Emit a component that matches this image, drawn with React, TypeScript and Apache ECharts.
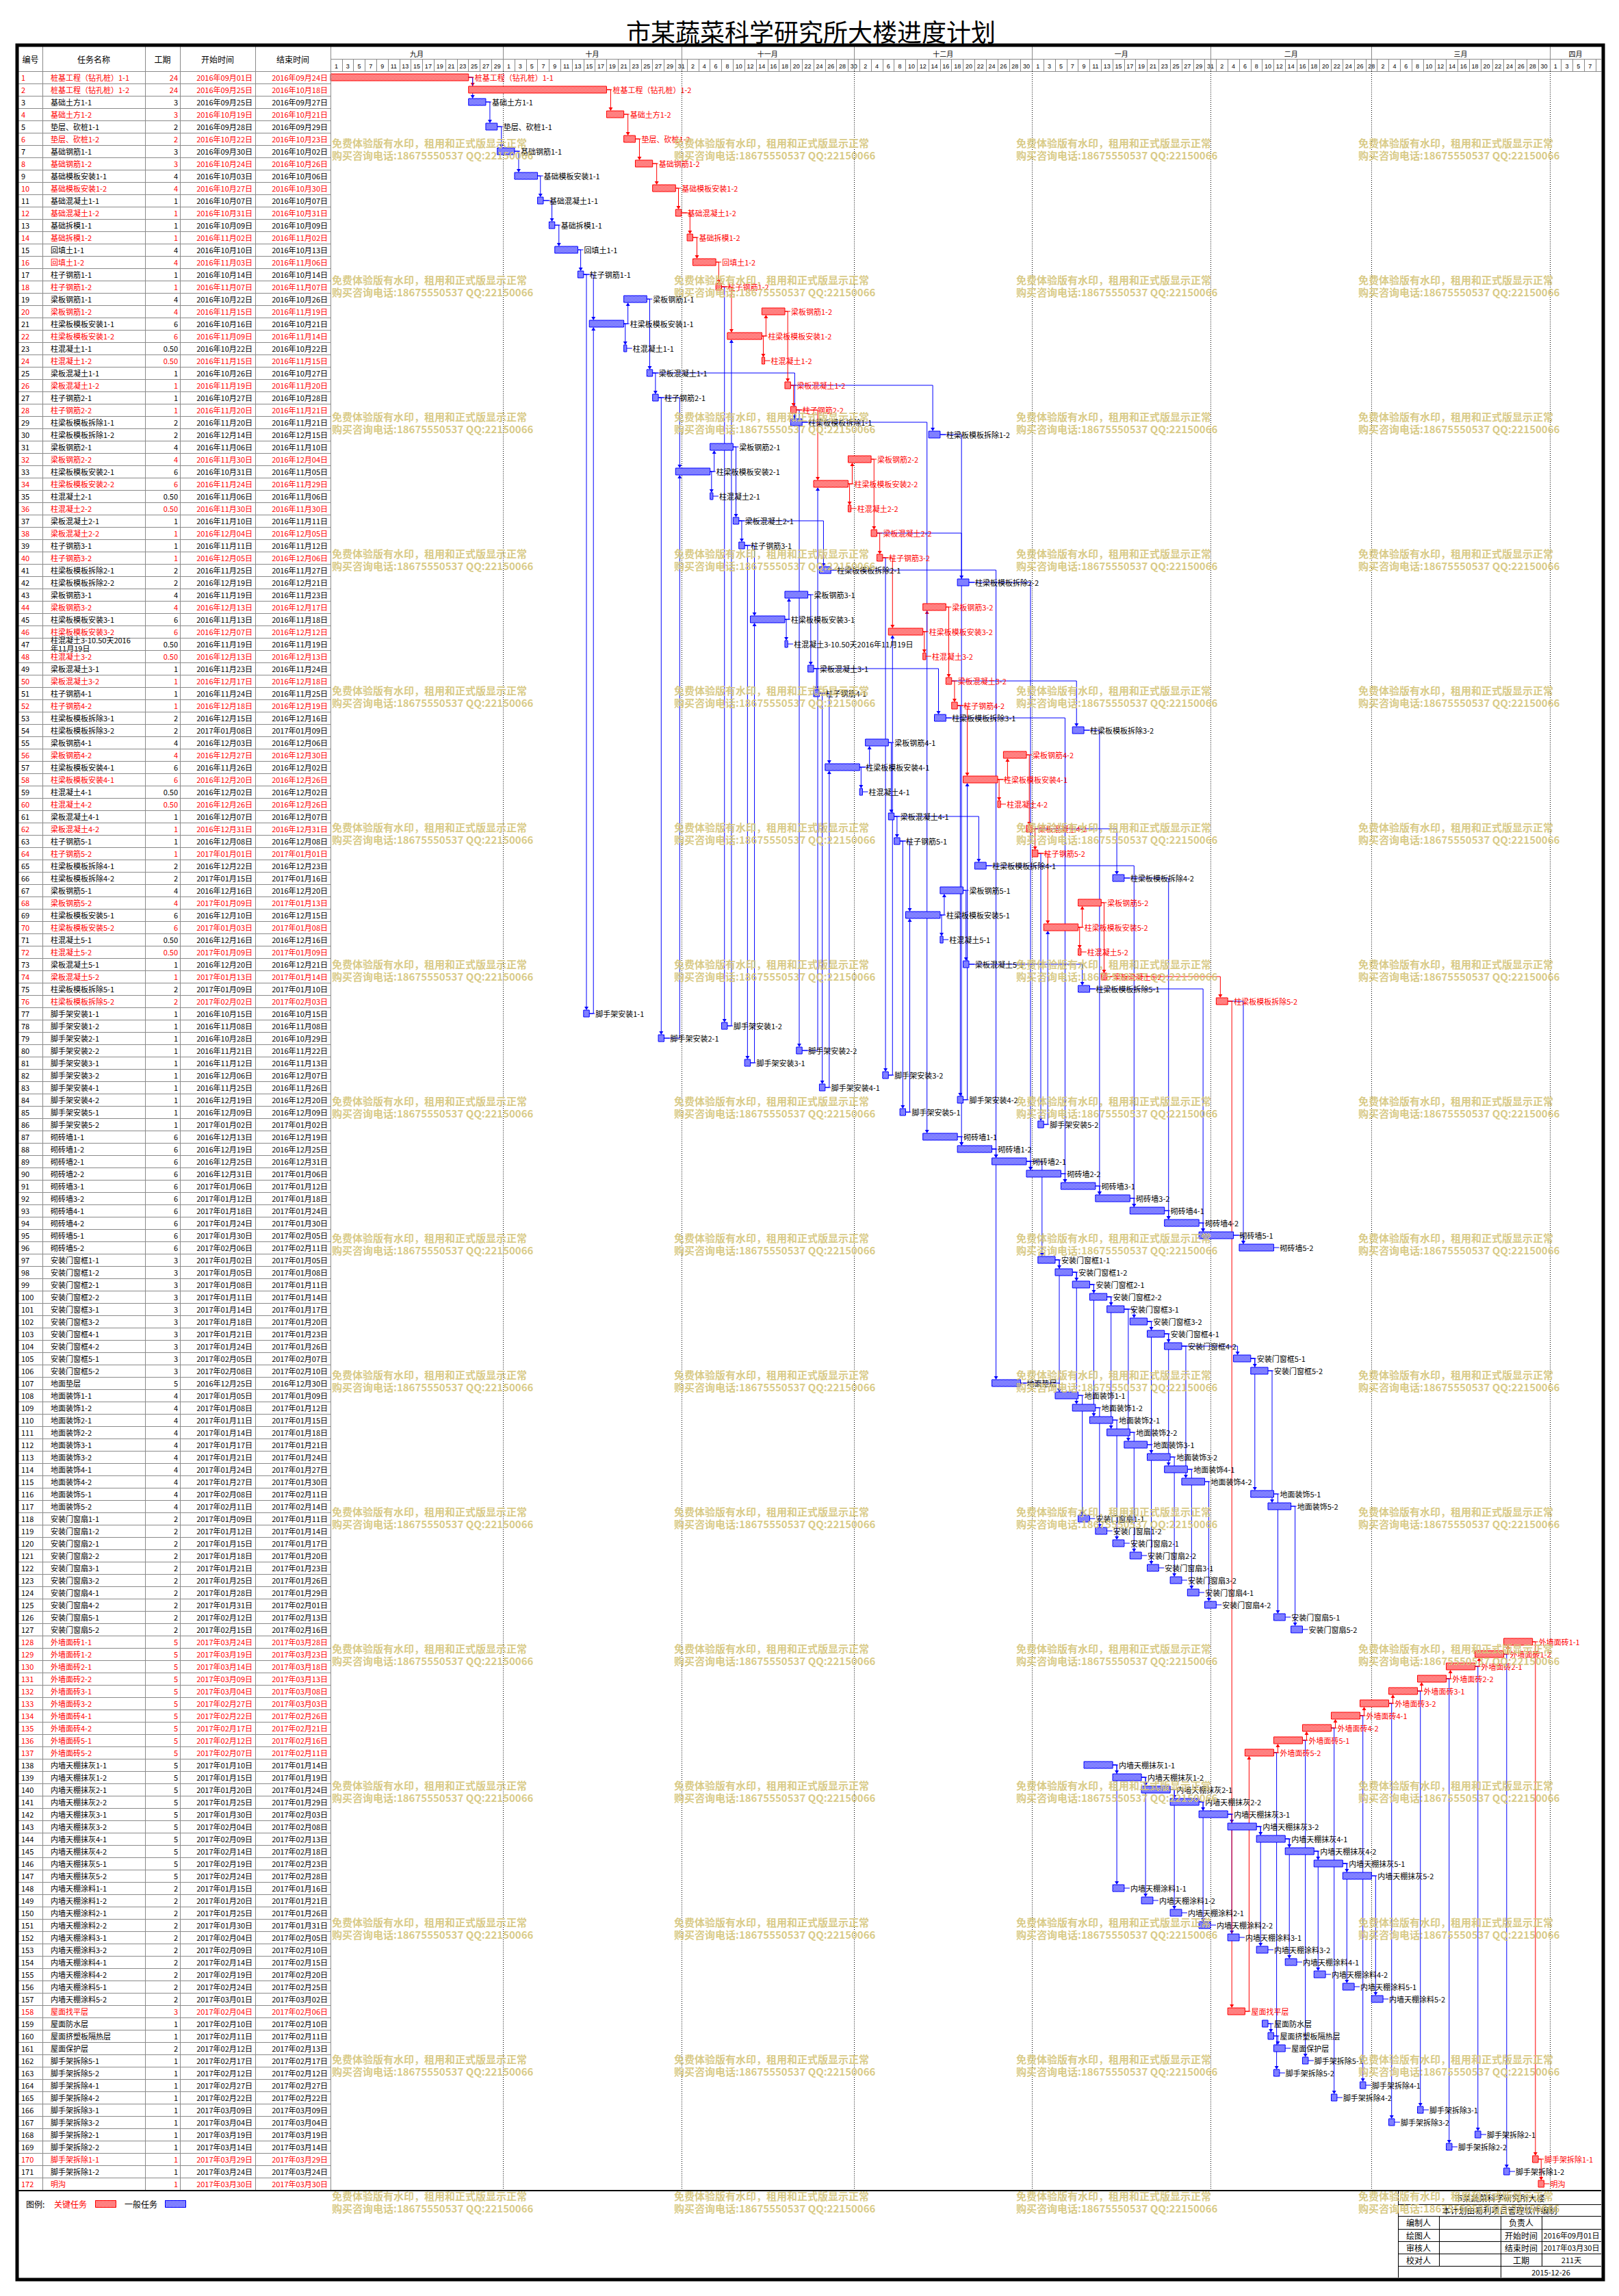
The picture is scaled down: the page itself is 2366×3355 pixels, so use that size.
import React, { useEffect, useRef } from 'react';
import * as echarts from 'echarts';

const TITLE = '市某蔬菜科学研究所大楼进度计划';
const TABLE_HEADERS = ['编号', '任务名称', '工期', '开始时间', '结束时间'];

const NAMES = [
'桩基工程（钻孔桩）1-1','桩基工程（钻孔桩）1-2','基础土方1-1','基础土方1-2','垫层、砍桩1-1','垫层、砍桩1-2','基础钢筋1-1','基础钢筋1-2','基础模板安装1-1','基础模板安装1-2',
'基础混凝土1-1','基础混凝土1-2','基础拆模1-1','基础拆模1-2','回填土1-1','回填土1-2','柱子钢筋1-1','柱子钢筋1-2','梁板钢筋1-1','梁板钢筋1-2',
'柱梁板模板安装1-1','柱梁板模板安装1-2','柱混凝土1-1','柱混凝土1-2','梁板混凝土1-1','梁板混凝土1-2','柱子钢筋2-1','柱子钢筋2-2','柱梁板模板拆除1-1','柱梁板模板拆除1-2',
'梁板钢筋2-1','梁板钢筋2-2','柱梁板模板安装2-1','柱梁板模板安装2-2','柱混凝土2-1','柱混凝土2-2','梁板混凝土2-1','梁板混凝土2-2','柱子钢筋3-1','柱子钢筋3-2',
'柱梁板模板拆除2-1','柱梁板模板拆除2-2','梁板钢筋3-1','梁板钢筋3-2','柱梁板模板安装3-1','柱梁板模板安装3-2','柱混凝土3-10.50天2016年11月19日','柱混凝土3-2','梁板混凝土3-1','梁板混凝土3-2',
'柱子钢筋4-1','柱子钢筋4-2','柱梁板模板拆除3-1','柱梁板模板拆除3-2','梁板钢筋4-1','梁板钢筋4-2','柱梁板模板安装4-1','柱梁板模板安装4-1','柱混凝土4-1','柱混凝土4-2',
'梁板混凝土4-1','梁板混凝土4-2','柱子钢筋5-1','柱子钢筋5-2','柱梁板模板拆除4-1','柱梁板模板拆除4-2','梁板钢筋5-1','梁板钢筋5-2','柱梁板模板安装5-1','柱梁板模板安装5-2',
'柱混凝土5-1','柱混凝土5-2','梁板混凝土5-1','梁板混凝土5-2','柱梁板模板拆除5-1','柱梁板模板拆除5-2','脚手架安装1-1','脚手架安装1-2','脚手架安装2-1','脚手架安装2-2',
'脚手架安装3-1','脚手架安装3-2','脚手架安装4-1','脚手架安装4-2','脚手架安装5-1','脚手架安装5-2','砌砖墙1-1','砌砖墙1-2','砌砖墙2-1','砌砖墙2-2',
'砌砖墙3-1','砌砖墙3-2','砌砖墙4-1','砌砖墙4-2','砌砖墙5-1','砌砖墙5-2','安装门窗框1-1','安装门窗框1-2','安装门窗框2-1','安装门窗框2-2',
'安装门窗框3-1','安装门窗框3-2','安装门窗框4-1','安装门窗框4-2','安装门窗框5-1','安装门窗框5-2','地面垫层','地面装饰1-1','地面装饰1-2','地面装饰2-1',
'地面装饰2-2','地面装饰3-1','地面装饰3-2','地面装饰4-1','地面装饰4-2','地面装饰5-1','地面装饰5-2','安装门窗扇1-1','安装门窗扇1-2','安装门窗扇2-1',
'安装门窗扇2-2','安装门窗扇3-1','安装门窗扇3-2','安装门窗扇4-1','安装门窗扇4-2','安装门窗扇5-1','安装门窗扇5-2','外墙面砖1-1','外墙面砖1-2','外墙面砖2-1',
'外墙面砖2-2','外墙面砖3-1','外墙面砖3-2','外墙面砖4-1','外墙面砖4-2','外墙面砖5-1','外墙面砖5-2','内墙天棚抹灰1-1','内墙天棚抹灰1-2','内墙天棚抹灰2-1',
'内墙天棚抹灰2-2','内墙天棚抹灰3-1','内墙天棚抹灰3-2','内墙天棚抹灰4-1','内墙天棚抹灰4-2','内墙天棚抹灰5-1','内墙天棚抹灰5-2','内墙天棚涂料1-1','内墙天棚涂料1-2','内墙天棚涂料2-1',
'内墙天棚涂料2-2','内墙天棚涂料3-1','内墙天棚涂料3-2','内墙天棚涂料4-1','内墙天棚涂料4-2','内墙天棚涂料5-1','内墙天棚涂料5-2','屋面找平层','屋面防水层','屋面挤塑板隔热层',
'屋面保护层','脚手架拆除5-1','脚手架拆除5-2','脚手架拆除4-1','脚手架拆除4-2','脚手架拆除3-1','脚手架拆除3-2','脚手架拆除2-1','脚手架拆除2-2','脚手架拆除1-1',
'脚手架拆除1-2','明沟'
];

const DURATIONS = [
24,24,3,3,2,2,3,3,4,4,
1,1,1,1,4,4,1,1,4,4,
6,6,0.5,0.5,1,1,1,1,2,2,
4,4,6,6,0.5,0.5,1,1,1,1,
2,2,4,4,6,6,0.5,0.5,1,1,
1,1,2,2,4,4,6,6,0.5,0.5,
1,1,1,1,2,2,4,4,6,6,
0.5,0.5,1,1,2,2,1,1,1,1,
1,1,1,1,1,1,6,6,6,6,
6,6,6,6,6,6,3,3,3,3,
3,3,3,3,3,3,5,4,4,4,
4,4,4,4,4,4,4,2,2,2,
2,2,2,2,2,2,2,5,5,5,
5,5,5,5,5,5,5,5,5,5,
5,5,5,5,5,5,5,2,2,2,
2,2,2,2,2,2,2,3,1,1,
2,1,1,1,1,1,1,1,1,1,
1,1
];

const STARTS = [
'09-01','09-25','09-25','10-19','09-28','10-22','09-30','10-24','10-03','10-27',
'10-07','10-31','10-09','11-02','10-10','11-03','10-14','11-07','10-22','11-15',
'10-16','11-09','10-22','11-15','10-26','11-19','10-27','11-20','11-20','12-14',
'11-06','11-30','10-31','11-24','11-06','11-30','11-10','12-04','11-11','12-05',
'11-25','12-19','11-19','12-13','11-13','12-07','11-19','12-13','11-23','12-17',
'11-24','12-18','12-15','01-08','12-03','12-27','11-26','12-20','12-02','12-26',
'12-07','12-31','12-08','01-01','12-22','01-15','12-16','01-09','12-10','01-03',
'12-16','01-09','12-20','01-13','01-09','02-02','10-15','11-08','10-28','11-21',
'11-12','12-06','11-25','12-19','12-09','01-02','12-13','12-19','12-25','12-31',
'01-06','01-12','01-18','01-24','01-30','02-06','01-02','01-05','01-08','01-11',
'01-14','01-18','01-21','01-24','02-05','02-08','12-25','01-05','01-08','01-11',
'01-14','01-17','01-21','01-24','01-27','02-08','02-11','01-09','01-12','01-15',
'01-18','01-21','01-25','01-28','01-31','02-12','02-15','03-24','03-19','03-14',
'03-09','03-04','02-27','02-22','02-17','02-12','02-07','01-10','01-15','01-20',
'01-25','01-30','02-04','02-09','02-14','02-19','02-24','01-15','01-20','01-25',
'01-30','02-04','02-09','02-14','02-19','02-24','03-01','02-04','02-10','02-11',
'02-12','02-17','02-12','02-27','02-22','03-09','03-04','03-19','03-14','03-29',
'03-24','03-30'
];

const ENDS = [
'09-24','10-18','09-27','10-21','09-29','10-23','10-02','10-26','10-06','10-30',
'10-07','10-31','10-09','11-02','10-13','11-06','10-14','11-07','10-26','11-19',
'10-21','11-14','10-22','11-15','10-27','11-20','10-28','11-21','11-21','12-15',
'11-10','12-04','11-05','11-29','11-06','11-30','11-11','12-05','11-12','12-06',
'11-27','12-21','11-23','12-17','11-18','12-12','11-19','12-13','11-24','12-18',
'11-25','12-19','12-16','01-09','12-06','12-30','12-02','12-26','12-02','12-26',
'12-07','12-31','12-08','01-01','12-23','01-16','12-20','01-13','12-15','01-08',
'12-16','01-09','12-21','01-14','01-10','02-03','10-15','11-08','10-29','11-22',
'11-13','12-07','11-26','12-20','12-09','01-02','12-19','12-25','12-31','01-06',
'01-12','01-18','01-24','01-30','02-05','02-11','01-05','01-08','01-11','01-14',
'01-17','01-20','01-23','01-26','02-07','02-10','12-30','01-09','01-12','01-15',
'01-18','01-21','01-24','01-27','01-30','02-11','02-14','01-11','01-14','01-17',
'01-20','01-23','01-26','01-29','02-01','02-13','02-16','03-28','03-23','03-18',
'03-13','03-08','03-03','02-26','02-21','02-16','02-11','01-14','01-19','01-24',
'01-29','02-03','02-08','02-13','02-18','02-23','02-28','01-16','01-21','01-26',
'01-31','02-05','02-10','02-15','02-20','02-25','03-02','02-06','02-10','02-11',
'02-13','02-17','02-12','02-27','02-22','03-09','03-04','03-19','03-14','03-29',
'03-24','03-30'
];

const CRITICAL = [1,2,4,6,8,10,12,14,16,18,20,22,24,26,28,32,34,36,38,40,44,46,48,50,52,56,58,60,62,64,68,70,72,74,76,
128,129,130,131,132,133,134,135,136,137,158,170,172];

const LINKS = [
[1,2],[1,3],[2,4],[3,5],[4,6],[5,7],[6,8],[7,9],[8,10],[9,11],[10,12],[11,13],[12,14],[13,15],[14,16],[15,17],[16,18],
[17,77],[17,21],[77,21],[21,19],[21,23],[19,25],[25,27],[25,29],
[18,78],[18,22],[78,22],[22,20],[22,24],[20,26],[26,28],[26,30],
[27,79],[27,33],[79,33],[33,31],[33,35],[31,37],[37,39],[37,41],
[28,80],[28,34],[80,34],[34,32],[34,36],[32,38],[38,40],[38,42],
[39,81],[39,45],[81,45],[45,43],[45,47],[43,49],[49,51],[49,53],
[40,82],[40,46],[82,46],[46,44],[46,48],[44,50],[50,52],[50,54],
[51,83],[51,57],[83,57],[57,55],[57,59],[55,61],[61,63],[61,65],
[52,84],[52,58],[84,58],[58,56],[58,60],[56,62],[62,64],[62,66],
[63,85],[63,69],[85,69],[69,67],[69,71],[67,73],[73,75],
[64,86],[64,70],[86,70],[70,68],[70,72],[68,74],[74,76],
[29,87],[30,88],[41,89],[42,90],[53,91],[54,92],[65,93],[66,94],[75,95],[76,96],
[87,88],[88,89],[89,90],[90,91],[91,92],[92,93],[93,94],[94,95],[95,96],
[88,107],[89,97],[97,98],[98,99],[99,100],[100,101],[101,102],[102,103],[103,104],[104,105],[105,106],
[107,108],[97,108],[98,109],[99,110],[100,111],[101,112],[102,113],[103,114],[104,115],[105,116],[106,117],
[108,118],[109,119],[110,120],[111,121],[112,122],[113,123],[114,124],[115,125],[116,126],[117,127],
[138,139],[139,140],[140,141],[141,142],[142,143],[143,144],[144,145],[145,146],[146,147],
[138,148],[139,149],[140,150],[141,151],[142,152],[143,153],[144,154],[145,155],[146,156],[147,157],
[76,158],[158,137],[159,160],[160,161],
[137,136],[136,135],[135,134],[134,133],[133,132],[132,131],[131,130],[130,129],[129,128],
[137,163],[136,162],[135,165],[134,164],[133,167],[132,166],[131,169],[130,168],[129,171],[128,170],[170,172]
];

const MONTH_NAMES = ['九月', '十月', '十一月', '十二月', '一月', '二月', '三月', '四月'];
const MONTH_STARTS = ['09-01', '10-01', '11-01', '12-01', '01-01', '02-01', '03-01', '04-01'];

const LEGEND_LABELS = ['图例:', '关键任务', '一般任务'];
const INFO_TITLE = '市某蔬菜科学研究所大楼';
const INFO_NOTE = '本计划由易利项目管理软件编制';
const INFO_LEFT = ['编制人', '绘图人', '审核人', '校对人'];
const INFO_RIGHT = ['负责人', '开始时间', '结束时间', '工期'];
const INFO_DATE = '2015-12-26';
const WATERMARK = ['免费体验版有水印，租用和正式版显示正常', '购买咨询电话:18675550537 QQ:22150066'];

// ---------- layout ----------
const FONT = '"Noto Sans CJK SC","Noto Sans",sans-serif';
const RED = '#ff0000';
const BLUE = '#0000ff';
const GRAY = '#8a8a8a';
const TABLE_L = 27;
const GANTT_L = 483;
const GANTT_R = 2340;
const HEAD_T = 68;
const MONTH_B = 86;
const BODY_T = 104;
const ROW_H = 18;
const BODY_B = BODY_T + ROW_H * NAMES.length;
const PX_PER_DAY = 8.405;
const X_MAX = (GANTT_R - GANTT_L) / PX_PER_DAY;

const BASE = Date.UTC(2016, 8, 1);
function yearOf(s: string) { return Number(s.slice(0, 2)) >= 9 ? 2016 : 2017; }
function dayIdx(s: string) {
  const m = Number(s.slice(0, 2)), d = Number(s.slice(3, 5));
  return (Date.UTC(yearOf(s), m - 1, d) - BASE) / 86400000;
}
function fullDate(s: string) { return `${yearOf(s)}年${s.slice(0, 2)}月${s.slice(3, 5)}日`; }
const CRIT_SET = new Set(CRITICAL);

function makePattern(color: string) {
  const c = document.createElement('canvas');
  c.width = 2; c.height = 2;
  const ctx = c.getContext('2d')!;
  ctx.fillStyle = '#ffffff'; ctx.fillRect(0, 0, 2, 2);
  ctx.fillStyle = color; ctx.fillRect(0, 0, 1, 1); ctx.fillRect(1, 1, 1, 1);
  return { image: c, repeat: 'repeat', imageWidth: 2, imageHeight: 2 };
}

function buildOption() {
  const redPat = makePattern(RED);
  const bluePat = makePattern(BLUE);
  const rows = NAMES.map((_, i) => i);
  const tableData = rows.map((i) => [i, 0]);
  const barData = rows.map((i) => [i, dayIdx(STARTS[i]), DURATIONS[i], CRIT_SET.has(i + 1) ? 1 : 0]);
  const linkData = LINKS.map(([a, b]) => {
    const ia = a - 1, ib = b - 1;
    return [ia, ib, dayIdx(STARTS[ia]) + DURATIONS[ia], dayIdx(STARTS[ib]), DURATIONS[ib],
      CRIT_SET.has(a) && CRIT_SET.has(b) ? 1 : 0];
  });
  const monthData = MONTH_STARTS.map((s, k) => [dayIdx(s), k < MONTH_STARTS.length - 1 ? dayIdx(MONTH_STARTS[k + 1]) : X_MAX, k, 0]);

  const txt = (text: string, x: number, y: number, o: any = {}) => ({
    type: 'text', x, y, silent: true, z: o.z ?? 20,
    style: { text, fill: o.fill ?? '#000', fontSize: o.size ?? 11, fontFamily: o.family ?? FONT, fontWeight: o.weight ?? 'normal',
      align: o.align ?? 'left', verticalAlign: 'middle' },
  });
  const ln = (x1: number, y1: number, x2: number, y2: number, stroke = GRAY, w = 1, z = 20) => ({
    type: 'line', silent: true, z, shape: { x1, y1, x2, y2 }, style: { stroke, lineWidth: w },
  });

  const g: any[] = [];
  g.push(txt(TITLE, 1185, 45, { size: 36, align: 'center', weight: 'normal' }));
  g.push({ type: 'rect', silent: true, z: 60, shape: { x: 25, y: 66, width: 2318, height: 3265 },
    style: { fill: 'none', stroke: '#000', lineWidth: 5 } });
  // table header
  const hx = [44.5, 137, 237.5, 318, 428];
  TABLE_HEADERS.forEach((t, k) => g.push(txt(t, hx[k], 86, { align: 'center', size: 12 })));
  [62, 212, 263, 373, 483].forEach((x) => g.push(ln(x + 0.5, HEAD_T, x + 0.5, BODY_B)));
  g.push(ln(TABLE_L, BODY_T + 0.5, GANTT_L, BODY_T + 0.5));
  g.push(ln(GANTT_L, MONTH_B + 0.5, GANTT_R, MONTH_B + 0.5));
  g.push(ln(TABLE_L, BODY_B + 1, GANTT_R, BODY_B + 1, '#000', 2, 30));
  // legend
  g.push(txt(LEGEND_LABELS[0], 38, 3220, { size: 12 }));
  g.push(txt(LEGEND_LABELS[1], 79, 3220, { size: 12, fill: RED }));
  g.push({ type: 'rect', silent: true, z: 20, shape: { x: 139.5, y: 3215.5, width: 30, height: 10 }, style: { fill: redPat, stroke: RED, lineWidth: 1 } });
  g.push(txt(LEGEND_LABELS[2], 182, 3220, { size: 12 }));
  g.push({ type: 'rect', silent: true, z: 20, shape: { x: 241.5, y: 3215.5, width: 30, height: 10 }, style: { fill: bluePat, stroke: BLUE, lineWidth: 1 } });
  // info table
  const IL = 2043, IR = 2340;
  const iy = [3201, 3221, 3238, 3257, 3275, 3293, 3311, 3328];
  g.push(ln(IL + 0.5, iy[0], IL + 0.5, iy[7], '#000', 1, 30));
  for (let r = 1; r <= 6; r++) g.push(ln(IL, iy[r] + 0.5, IR, iy[r] + 0.5, '#000', 1, 30));
  g.push(ln(2103.5, iy[2], 2103.5, iy[6], '#000', 1, 30));
  g.push(ln(2193.5, iy[2], 2193.5, iy[7], '#000', 1, 30));
  g.push(ln(2253.5, iy[2], 2253.5, iy[6], '#000', 1, 30));
  const cy = (r: number) => (iy[r] + iy[r + 1]) / 2;
  g.push(txt(INFO_TITLE, (IL + IR) / 2, cy(0), { align: 'center', size: 12 }));
  g.push(txt(INFO_NOTE, (IL + IR) / 2, cy(1), { align: 'center', size: 12 }));
  const span = dayIdx(ENDS[ENDS.length - 1]) - dayIdx(STARTS[0]) + 1;
  const infoVals = ['', fullDate(STARTS[0]), fullDate(ENDS[ENDS.length - 1]), `${span}天`];
  for (let r = 0; r < 4; r++) {
    g.push(txt(INFO_LEFT[r], 2073, cy(r + 2), { align: 'center', size: 12 }));
    g.push(txt(INFO_RIGHT[r], 2223, cy(r + 2), { align: 'center', size: 12 }));
    if (infoVals[r]) g.push(txt(infoVals[r], 2296.5, cy(r + 2), { align: 'center', size: 11 }));
  }
  g.push(txt(INFO_DATE, 2266.5, cy(6), { align: 'center', size: 11 }));
  // watermarks
  for (let r = 0; r < 16; r++) {
    for (let c = 0; c < 4; c++) {
      const x = 485 + c * 500, y = 208 + r * 200;
      g.push(txt(WATERMARK[0], x, y, { size: 15, fill: 'rgba(212,196,120,0.9)', weight: 'bold', z: 100 }));
      g.push(txt(WATERMARK[1], x, y + 18, { size: 15, fill: 'rgba(212,196,120,0.9)', weight: 'bold', z: 100 }));
    }
  }

  return {
    animation: false,
    backgroundColor: '#ffffff',
    grid: [
      { left: TABLE_L, top: BODY_T, width: GANTT_L - TABLE_L, height: BODY_B - BODY_T },
      { left: GANTT_L, top: BODY_T, width: GANTT_R - GANTT_L, height: BODY_B - BODY_T },
    ],
    xAxis: [
      { gridIndex: 0, type: 'value', min: 0, max: GANTT_L - TABLE_L, show: false },
      {
        gridIndex: 1, type: 'value', position: 'top', min: 0, max: X_MAX, interval: 2,
        axisLine: { show: true, lineStyle: { color: GRAY, width: 1 } },
        axisTick: { show: true, length: BODY_T - MONTH_B, lineStyle: { color: GRAY, width: 1 } },
        splitLine: { show: false },
        axisLabel: {
          show: true, margin: 3, fontSize: 9, color: '#000', fontFamily: '"Liberation Sans Narrow","Liberation Sans",sans-serif',
          align: 'center', padding: [0, 0, 0, PX_PER_DAY * 2], showMaxLabel: false,
          formatter: (v: number) => (Number.isInteger(v) && v < 219 ? String(new Date(BASE + v * 86400000).getUTCDate()) : ''),
        },
      },
    ],
    yAxis: [
      { gridIndex: 0, type: 'category', inverse: true, data: rows.map((i) => String(i + 1)), show: false },
      { gridIndex: 1, type: 'category', inverse: true, data: rows.map((i) => String(i + 1)), show: false },
    ],
    graphic: { elements: g },
    series: [
      {
        type: 'custom', name: 'table', xAxisIndex: 0, yAxisIndex: 0, data: tableData, encode: { x: 1, y: 0 }, silent: true, z: 3,
        renderItem: (params: any, api: any) => {
          const i = api.value(0);
          const c = api.coord([0, i]);
          const half = api.size([0, 1])[1] / 2;
          const X = (px: number) => api.coord([px - TABLE_L, i])[0];
          const color = CRIT_SET.has(i + 1) ? RED : '#000';
          const nm = NAMES[i].length > 16 ? NAMES[i].slice(0, 16) + '\n' + NAMES[i].slice(16) : NAMES[i];
          const d = DURATIONS[i];
          const durText = Number.isInteger(d) ? String(d) : d.toFixed(2);
          const t = (text: string, x: number, align: string) => ({
            type: 'text', x, y: c[1],
            style: { text, fill: color, fontSize: 11, fontFamily: FONT, align, verticalAlign: 'middle', lineHeight: 12 },
          });
          const yl = Math.round(c[1] + half) + 0.5;
          return {
            type: 'group',
            children: [
              t(String(i + 1), X(31), 'left'),
              t(nm, X(74), 'left'),
              t(durText, X(260), 'right'),
              t(fullDate(STARTS[i]), X(369), 'right'),
              t(fullDate(ENDS[i]), X(479), 'right'),
              { type: 'line', shape: { x1: X(TABLE_L), y1: yl, x2: X(GANTT_L), y2: yl }, style: { stroke: GRAY, lineWidth: 1 } },
            ],
          };
        },
      },
      {
        type: 'custom', name: 'months', xAxisIndex: 1, yAxisIndex: 1, data: monthData, encode: { x: 0, y: 3 }, silent: true, z: 1,
        renderItem: (params: any, api: any) => {
          const x0 = api.coord([api.value(0), 0])[0];
          const x1 = api.coord([api.value(1), 0])[0];
          const k = api.value(2);
          const children: any[] = [
            { type: 'text', x: (x0 + x1) / 2, y: (HEAD_T + MONTH_B) / 2 + 1,
              style: { text: MONTH_NAMES[k], fill: '#000', fontSize: 10, fontFamily: FONT, align: 'center', verticalAlign: 'middle' } },
          ];
          if (k > 0) {
            const xs = Math.round(x0) + 0.5;
            children.push({ type: 'line', shape: { x1: xs, y1: HEAD_T, x2: xs, y2: BODY_T }, style: { stroke: GRAY, lineWidth: 1 } });
            children.push({ type: 'line', shape: { x1: xs, y1: BODY_T, x2: xs, y2: BODY_B }, style: { stroke: '#000', lineWidth: 1, lineDash: [1, 2] } });
          }
          return { type: 'group', children };
        },
      },
      {
        type: 'custom', name: 'links', xAxisIndex: 1, yAxisIndex: 1, data: linkData, encode: { x: 2, y: 0 }, silent: true, z: 4,
        renderItem: (params: any, api: any) => {
          const fr = api.value(0), to = api.value(1);
          const pFrom = api.coord([api.value(2), fr]);
          const pTo = api.coord([api.value(3), to]);
          const pToEnd = api.coord([api.value(3) + api.value(4), to]);
          const w = pToEnd[0] - pTo[0];
          const xv = pTo[0] + Math.min(6, Math.max(2, w / 2));
          const down = to > fr;
          const yEnd = down ? pTo[1] - 5 : pTo[1] + 5;
          const color = api.value(5) ? RED : BLUE;
          const ah = down ? -5 : 5;
          return {
            type: 'group',
            children: [
              { type: 'polyline', shape: { points: [[pFrom[0], pFrom[1]], [xv, pFrom[1]], [xv, yEnd + ah]] }, style: { stroke: color, lineWidth: 1, fill: null } },
              { type: 'polygon', shape: { points: [[xv - 3, yEnd + ah], [xv + 3, yEnd + ah], [xv, yEnd]] }, style: { fill: color } },
            ],
          };
        },
      },
      {
        type: 'custom', name: 'bars', xAxisIndex: 1, yAxisIndex: 1, data: barData, encode: { x: 1, y: 0 }, silent: true, z: 5,
        renderItem: (params: any, api: any) => {
          const i = api.value(0);
          const p0 = api.coord([api.value(1), i]);
          const p1 = api.coord([api.value(1) + api.value(2), i]);
          const crit = api.value(3) === 1;
          const color = crit ? RED : BLUE;
          const tcolor = crit ? RED : '#000';
          return {
            type: 'group',
            children: [
              { type: 'rect', shape: { x: p0[0], y: p0[1] - 5, width: p1[0] - p0[0], height: 10 },
                style: { fill: crit ? redPat : bluePat, stroke: color, lineWidth: 1 } },
              { type: 'line', shape: { x1: p1[0], y1: p0[1], x2: p1[0] + 8, y2: p0[1] }, style: { stroke: color, lineWidth: 1 } },
              { type: 'text', x: p1[0] + 9, y: p0[1],
                style: { text: NAMES[i], fill: tcolor, fontSize: 11, fontFamily: FONT, align: 'left', verticalAlign: 'middle' } },
            ],
          };
        },
      },
    ],
  };
}

export default function App() {
  const ref = useRef<HTMLDivElement>(null);
  useEffect(() => {
    const el = ref.current;
    if (!el) return;
    const chart = echarts.init(el, null, { renderer: 'svg' });
    chart.setOption(buildOption() as any);
    return () => chart.dispose();
  }, []);
  return (
    <div
      ref={ref}
      style={{ position: 'absolute', left: 0, top: 0, width: 2366, height: 3355, background: '#ffffff' }}
    />
  );
}
